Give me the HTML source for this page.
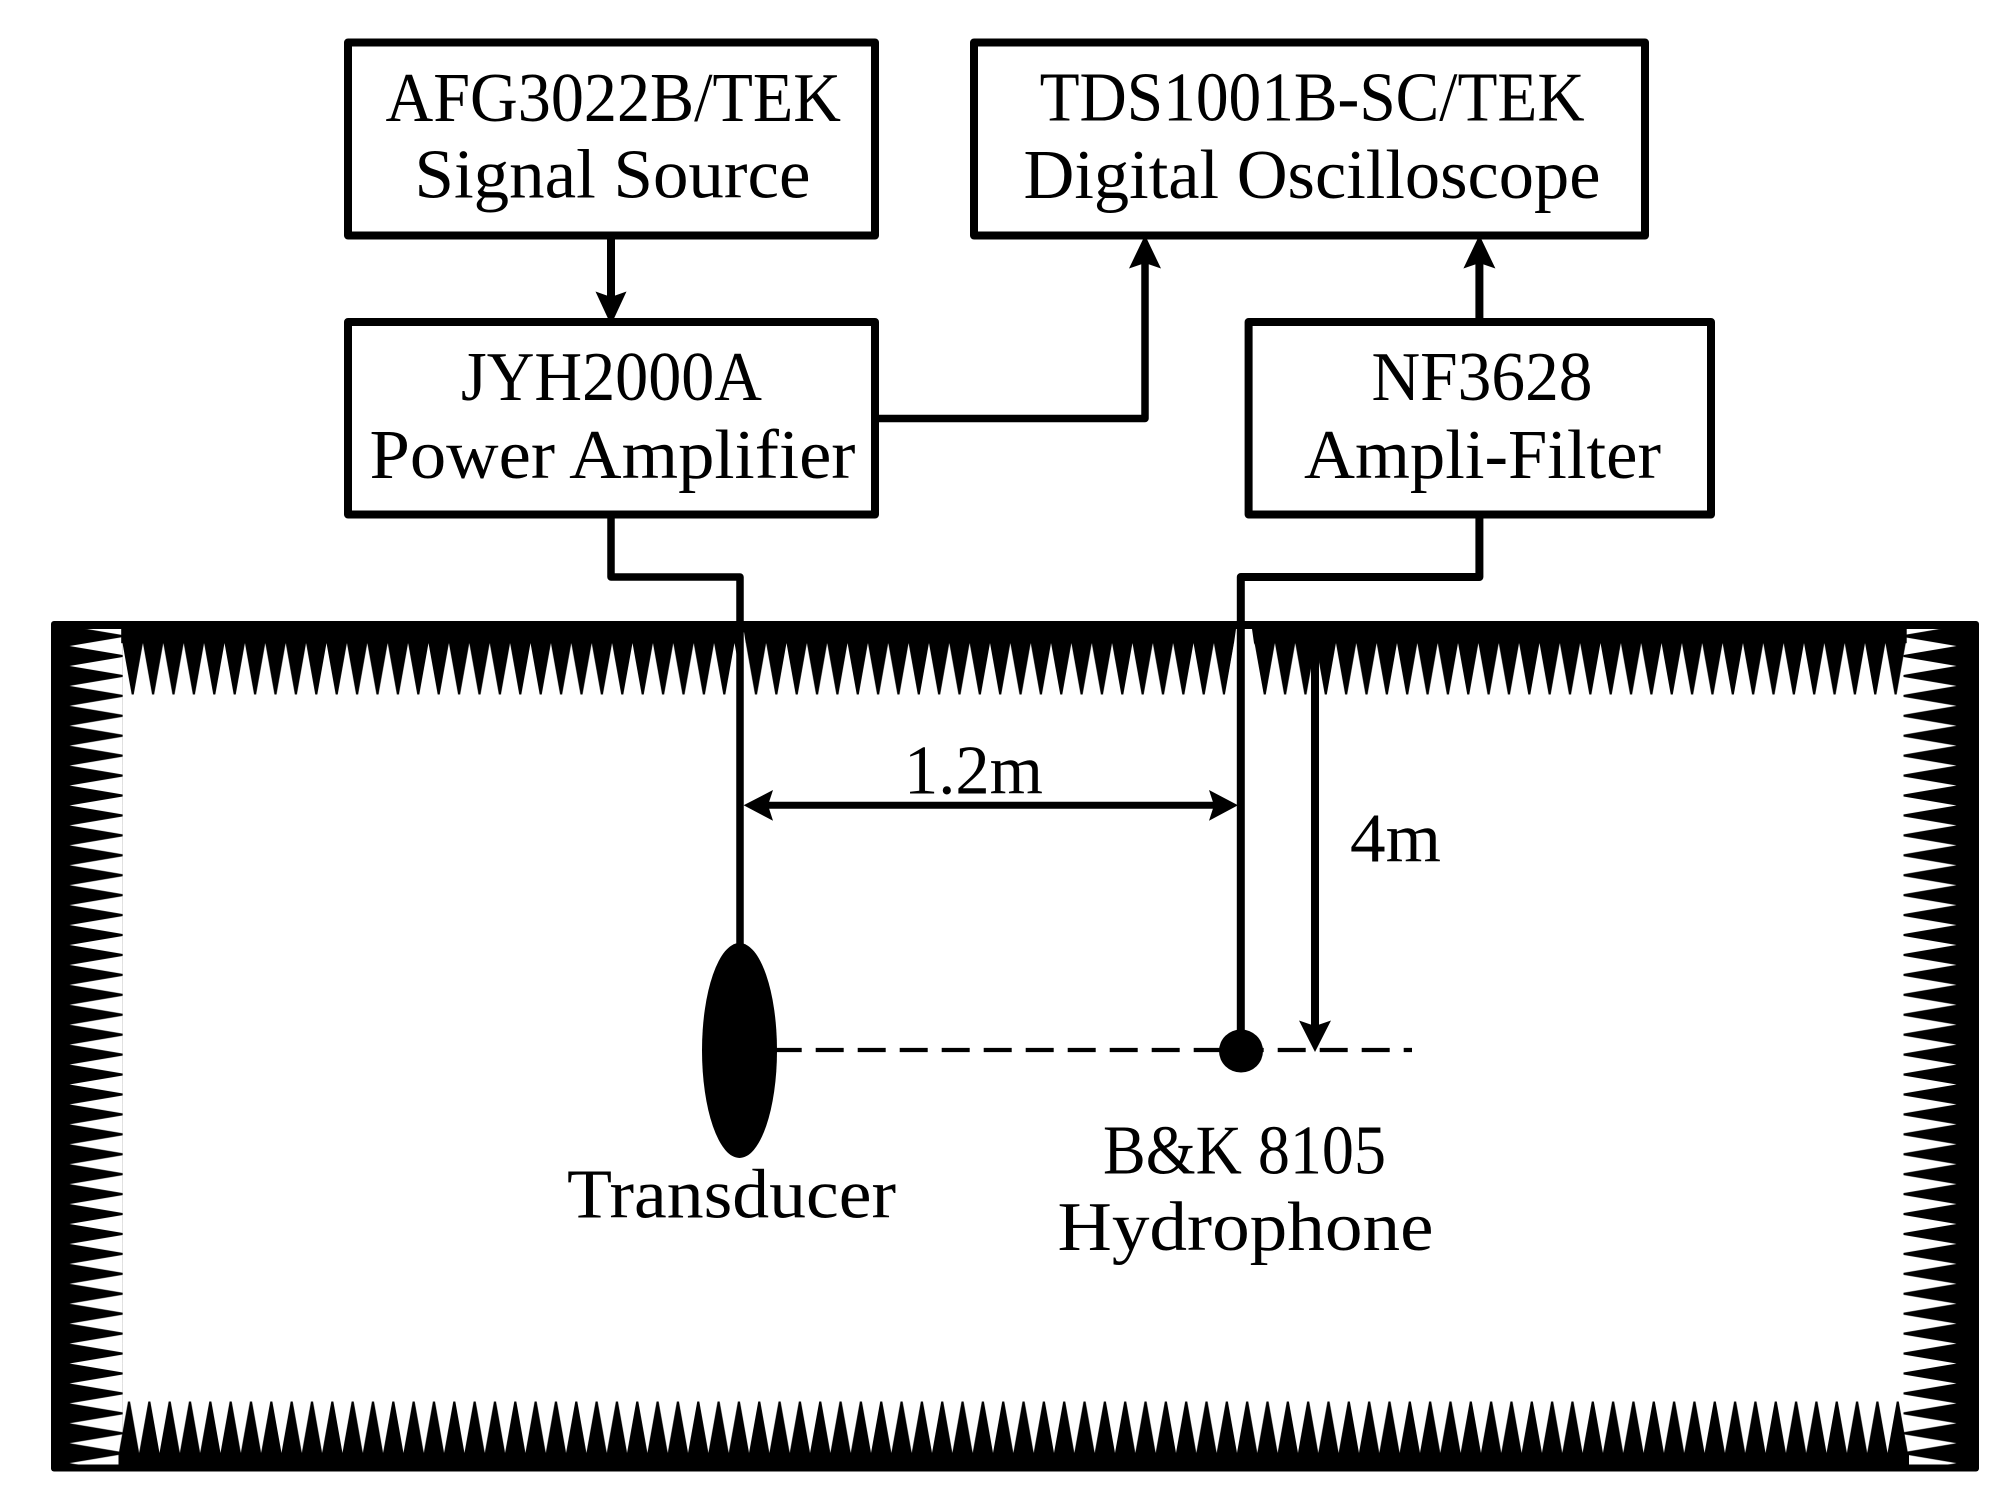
<!DOCTYPE html>
<html lang="en">
<head>
<meta charset="utf-8">
<title>Measurement setup diagram</title>
<style>
html,body{margin:0;padding:0;background:#fff;}
svg{display:block;}
text{font-family:"Liberation Serif",serif;font-size:70px;fill:#000;}
</style>
</head>
<body>
<svg width="2016" height="1506" viewBox="0 0 2016 1506" xmlns="http://www.w3.org/2000/svg">
<defs>
<pattern id="ta" patternUnits="userSpaceOnUse" x="122.5" y="643" width="20.4" height="51.5"><polygon points="0,0 20.4,0 11.2,51.5 9.2,51.5" fill="#000"/></pattern>
<pattern id="tb" patternUnits="userSpaceOnUse" x="745.8" y="643" width="20.35" height="51.5"><polygon points="0,0 20.35,0 11.2,51.5 9.2,51.5" fill="#000"/></pattern>
<pattern id="bt" patternUnits="userSpaceOnUse" x="118.83" y="1401.5" width="20.33" height="51.5"><polygon points="0,51.5 20.33,51.5 11.2,0 9.2,0" fill="#000"/></pattern>
<pattern id="lt" patternUnits="userSpaceOnUse" x="69.5" y="646.035" width="53.2" height="19.93"><polygon points="0,0 0,19.93 53.2,10.9 53.2,9" fill="#000"/></pattern>
<pattern id="rt" patternUnits="userSpaceOnUse" x="1903.5" y="646.035" width="53" height="19.93"><polygon points="53,0 53,19.93 0,10.9 0,9" fill="#000"/></pattern>
</defs>

<rect width="2016" height="1506" fill="#fff"/>

<!-- Chamber -->
<rect x="51" y="621" width="1928" height="850.5" rx="3" fill="#000"/>
<rect x="69.5" y="629" width="1887" height="835.5" fill="#fff"/>
<rect x="69.5" y="629" width="53.2" height="835.5" fill="url(#lt)"/>
<rect x="1903.5" y="629" width="53" height="835.5" fill="url(#rt)"/>
<rect x="121.2" y="621" width="1785.5" height="22.2" fill="#000"/>
<rect x="122.5" y="643" width="614" height="51.5" fill="url(#ta)"/>
<rect x="745.8" y="643" width="1159.95" height="51.5" fill="url(#tb)"/>
<rect x="118.83" y="1401.5" width="1789" height="51.5" fill="url(#bt)"/>
<rect x="118.5" y="1453" width="1790.5" height="18" fill="#000"/>
<polygon points="744,632 745.8,643.5 736.5,643.5" fill="#fff"/>
<polygon points="1236,629 1252,629 1254,643 1263.5,694.5 1225,694.5 1234,643" fill="#fff"/>

<!-- Boxes -->
<g fill="#fff" stroke="#000" stroke-width="8" stroke-linejoin="round">
<rect x="348" y="42.5" width="527" height="193"/>
<rect x="974" y="42.5" width="671" height="193"/>
<rect x="348" y="322" width="527" height="192.5"/>
<rect x="1248.6" y="322" width="462.4" height="192.5"/>
</g>

<!-- Connectors -->
<g fill="none" stroke="#000" stroke-linejoin="round">
<path d="M611 239.5V300" stroke-width="8"/>
<path d="M878 418.5H1145V260" stroke-width="7.5"/>
<path d="M1479.4 318V260" stroke-width="8"/>
<path d="M611 518.5V577H740V946" stroke-width="7.5"/>
<path d="M1479.4 518.5V577H1240.8V1035" stroke-width="8"/>
<path d="M1315 643V1030" stroke-width="8"/>
<path d="M755 805.3H1224" stroke-width="7"/>
<path d="M773.7 1050H1412" stroke-width="4.2" stroke-dasharray="28 14"/>
</g>

<!-- Arrowheads -->
<g fill="#000">
<polygon points="611,325 595.5,291.5 611,297 626.5,291.5"/>
<polygon points="1145,235 1129,268.5 1145,263 1161,268.5"/>
<polygon points="1479.4,235 1463.4,268.5 1479.4,263 1495.4,268.5"/>
<polygon points="1315,1052 1299,1020.5 1315,1026 1331,1020.5"/>
<polygon points="743.6,805.3 773,790 768,805.3 773,820.7"/>
<polygon points="1238,805.3 1209,790 1214,805.3 1209,820.7"/>
<ellipse cx="739.5" cy="1050.5" rx="37.5" ry="107.5"/>
<ellipse cx="1241" cy="1051" rx="22" ry="21.5"/>
</g>

<!-- Labels -->
<text x="385.5" y="121" textLength="455.5" lengthAdjust="spacingAndGlyphs">AFG3022B/TEK</text>
<text x="414.5" y="197.5" textLength="396" lengthAdjust="spacingAndGlyphs">Signal Source</text>
<text x="1039.6" y="120.5" textLength="545" lengthAdjust="spacingAndGlyphs">TDS1001B-SC/TEK</text>
<text x="1023.5" y="198" textLength="577" lengthAdjust="spacingAndGlyphs">Digital Oscilloscope</text>
<text x="461" y="400" textLength="301" lengthAdjust="spacingAndGlyphs">JYH2000A</text>
<text x="369.5" y="478" textLength="486" lengthAdjust="spacingAndGlyphs">Power Amplifier</text>
<text x="1371.5" y="400" textLength="221" lengthAdjust="spacingAndGlyphs">NF3628</text>
<text x="1304" y="478" textLength="357" lengthAdjust="spacingAndGlyphs">Ampli-Filter</text>
<text x="904" y="793.5" textLength="139" lengthAdjust="spacingAndGlyphs">1.2m</text>
<text x="1350" y="861.5" textLength="91" lengthAdjust="spacingAndGlyphs">4m</text>
<text x="567" y="1217.5" textLength="329" lengthAdjust="spacingAndGlyphs">Transducer</text>
<text x="1103" y="1173.7" textLength="283" lengthAdjust="spacingAndGlyphs">B&amp;K 8105</text>
<text x="1057.5" y="1250" textLength="376" lengthAdjust="spacingAndGlyphs">Hydrophone</text>
</svg>
</body>
</html>
